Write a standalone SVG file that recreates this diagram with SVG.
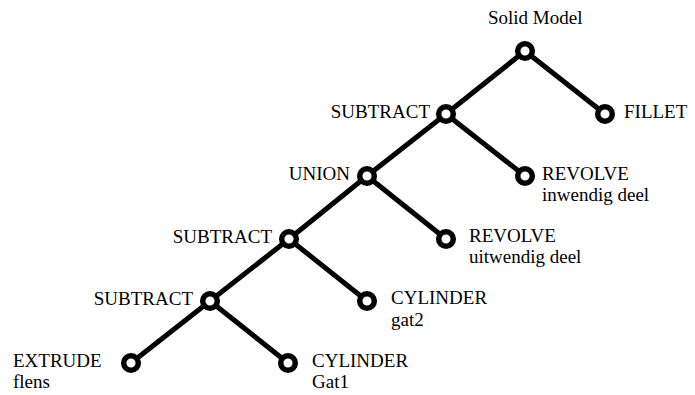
<svg xmlns="http://www.w3.org/2000/svg" width="695" height="395" viewBox="0 0 695 395">
  <style>
    .edge { stroke: #000; stroke-width: 5; stroke-linecap: round; fill: none; }
    .node { fill: #fff; stroke: #000; stroke-width: 5.5; }
    text { font-family: "Liberation Serif", "Times New Roman", serif; font-size: 19px; fill: #000; }
    .end { text-anchor: end; }
  </style>
  <rect width="695" height="395" fill="#fff"/>
  <!-- tree edges -->
  <g id="connectors">
    <line class="edge" x1="525" y1="51" x2="446" y2="114"/>
    <line class="edge" x1="525" y1="51" x2="605" y2="114"/>
    <line class="edge" x1="446" y1="114" x2="367" y2="176"/>
    <line class="edge" x1="446" y1="114" x2="525" y2="176"/>
    <line class="edge" x1="367" y1="176" x2="289" y2="239"/>
    <line class="edge" x1="367" y1="176" x2="446" y2="239"/>
    <line class="edge" x1="289" y1="239" x2="210" y2="301"/>
    <line class="edge" x1="289" y1="239" x2="367" y2="301"/>
    <line class="edge" x1="210" y1="301" x2="131" y2="363"/>
    <line class="edge" x1="210" y1="301" x2="288" y2="363"/>
  </g>
  <g id="root">
    <circle class="node" cx="525" cy="51" r="7.3"/>
    <text x="488" y="24">Solid Model</text>
  </g>
  <g id="fillet">
    <circle class="node" cx="605" cy="114" r="7.3"/>
    <text x="624" y="118">FILLET</text>
  </g>
  <g id="subtract1">
    <circle class="node" cx="446" cy="114" r="7.3"/>
    <text class="end" x="430" y="118">SUBTRACT</text>
  </g>
  <g id="revolve-inwendig">
    <circle class="node" cx="525" cy="176" r="7.3"/>
    <text x="542" y="180">REVOLVE</text>
    <text x="542" y="201">inwendig deel</text>
  </g>
  <g id="union">
    <circle class="node" cx="367" cy="176" r="7.3"/>
    <text class="end" x="350" y="180">UNION</text>
  </g>
  <g id="revolve-uitwendig">
    <circle class="node" cx="446" cy="239" r="7.3"/>
    <text x="469" y="242">REVOLVE</text>
    <text x="469" y="263">uitwendig deel</text>
  </g>
  <g id="subtract2">
    <circle class="node" cx="289" cy="239" r="7.3"/>
    <text class="end" x="272" y="243">SUBTRACT</text>
  </g>
  <g id="cylinder-gat2">
    <circle class="node" cx="367" cy="301" r="7.3"/>
    <text x="391" y="304">CYLINDER</text>
    <text x="391" y="326">gat2</text>
  </g>
  <g id="subtract3">
    <circle class="node" cx="210" cy="301" r="7.3"/>
    <text class="end" x="193" y="305">SUBTRACT</text>
  </g>
  <g id="extrude">
    <circle class="node" cx="131" cy="363" r="7.3"/>
    <text x="13" y="367">EXTRUDE</text>
    <text x="13" y="388">flens</text>
  </g>
  <g id="cylinder-gat1">
    <circle class="node" cx="288" cy="363" r="7.3"/>
    <text x="312" y="367">CYLINDER</text>
    <text x="312" y="388">Gat1</text>
  </g>
</svg>
